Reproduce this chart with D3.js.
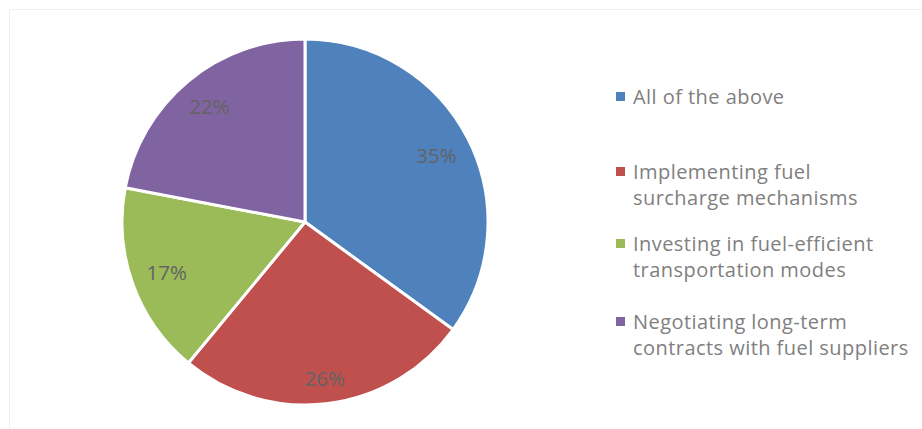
<!DOCTYPE html>
<html>
<head>
<meta charset="utf-8">
<script src="https://cdn.jsdelivr.net/npm/d3@7"></script>
<style>
  html, body { margin: 0; padding: 0; background: #fff; }
  svg { display: block; }
</style>
</head>
<body>
<svg id="chart" width="922" height="429"></svg>
<script>
// Survey answers and their shares (percent)
const categories = [
  "All of the above",
  "Implementing fuel surcharge mechanisms",
  "Investing in fuel-efficient transportation modes",
  "Negotiating long-term contracts with fuel suppliers"
];
const values = [35, 26, 17, 22];
const colors = ["#4F81BD", "#C0504D", "#9BBB59", "#8064A2"];
// Legend entries broken into display lines
const legendLines = [
  ["All of the above"],
  ["Implementing fuel", "surcharge mechanisms"],
  ["Investing in fuel-efficient", "transportation modes"],
  ["Negotiating long-term", "contracts with fuel suppliers"]
];

const W = 922, H = 429;
const svg = d3.select("#chart");
const FONT = "'Open Sans', 'Noto Sans', sans-serif";

// faint chart-area frame
svg.append("rect")
  .attr("x", 9.5).attr("y", 9.5)
  .attr("width", W).attr("height", H)
  .attr("fill", "none")
  .attr("stroke", "#f0f0f0")
  .attr("stroke-width", 1);

const cx = 305, cy = 222, R = 183;
const g = svg.append("g").attr("transform", `translate(${cx},${cy})`);

const pie = d3.pie().sort(null).value(d => d)
  .startAngle(0).endAngle(2 * Math.PI);
const arcs = pie(values);
const arc = d3.arc().innerRadius(0).outerRadius(R);

g.selectAll("path.slice")
  .data(arcs)
  .join("path")
  .attr("class", "slice")
  .attr("d", arc)
  .attr("fill", (d, i) => colors[i])
  .attr("stroke", "#fff")
  .attr("stroke-width", 3)
  .attr("stroke-linejoin", "round");

// data labels placed at the inside end of each slice
const total = d3.sum(values);
const labels = g.selectAll("text.lbl")
  .data(arcs)
  .join("text")
  .attr("class", "lbl")
  .attr("font-family", FONT)
  .attr("font-size", 20.5)
  .attr("fill", "#636363")
  .attr("text-anchor", "middle")
  .attr("dominant-baseline", "central")
  .text(d => Math.round(d.data / total * 100) + "%");

labels.each(function(d) {
  const bb = this.getBBox();
  const hw = bb.width / 2, hh = 7.5;
  const a = (d.startAngle + d.endAngle) / 2;
  const ux = Math.sin(a), uy = -Math.cos(a);
  const target = R - 14;
  // step outward until the box's farthest corner meets the target radius
  let dist = 0;
  for (let t = 0; t < R; t += 0.5) {
    const x = ux * t, y = uy * t;
    const fx = x + Math.sign(ux) * hw, fy = y + Math.sign(uy) * hh;
    if (Math.hypot(fx, fy) > target) break;
    dist = t;
  }
  d3.select(this).attr("x", ux * dist).attr("y", uy * dist);
});

// legend
const legend = svg.append("g").attr("transform", "translate(616,0)");
const firstBaseline = [104, 179, 251, 329];
const lineH = 26;
legendLines.forEach((lines, i) => {
  legend.append("rect")
    .attr("x", 0).attr("y", firstBaseline[i] - 12)
    .attr("width", 9).attr("height", 9)
    .attr("fill", colors[i]);
  lines.forEach((ln, j) => {
    legend.append("text")
      .attr("x", 17).attr("y", firstBaseline[i] + j * lineH)
      .attr("font-family", FONT)
      .attr("font-size", 20)
      .attr("letter-spacing", 0.45)
      .attr("fill", "#808080")
      .text(ln);
  });
});
</script>
</body>
</html>
